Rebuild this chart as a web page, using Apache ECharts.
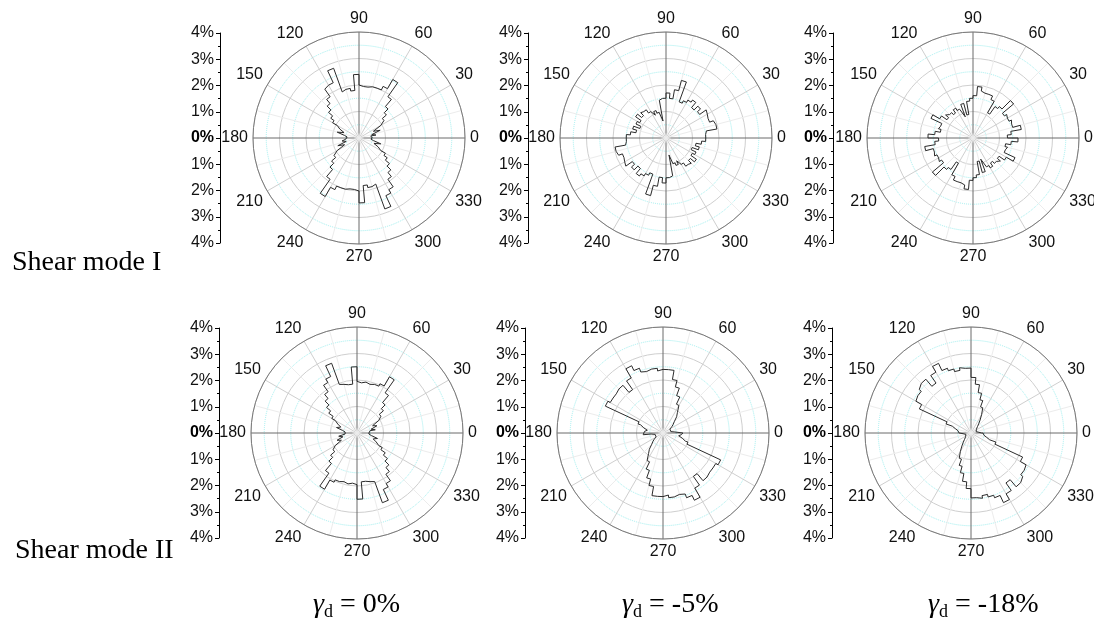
<!DOCTYPE html>
<html>
<head>
<meta charset="utf-8">
<script src="https://cdn.jsdelivr.net/npm/echarts@6/dist/echarts.min.js"></script>
<style>
  html, body { margin: 0; background: #fff; }
  #chart { width: 1094px; height: 623px; }
</style>
</head>
<body>
<div id="chart"></div>
<script>
// bin width of the rose diagrams (degrees), 72 bins from 0 to 360
const binWidth = 5;

// frequency (%) per 5 degree bin, 0..355
const shearI_0 = [
  0.5, 0.45, 0.65, 0.5, 0.85, 0.6, 0.95, 1.15, 1.35, 1.55, 1.9, 2.55,
  2.15, 2.0, 2.0, 1.95, 1.95, 2.0, 2.4, 1.8, 1.9, 1.85, 2.8, 2.3,
  2.25, 1.9, 1.7, 1.5, 1.3, 1.15, 0.95, 0.8, 0.6, 0.85, 0.55, 0.45,
  0.5, 0.45, 0.65, 0.5, 0.85, 0.6, 0.95, 1.15, 1.35, 1.55, 1.9, 2.55,
  2.15, 2.0, 2.0, 1.95, 1.95, 2.0, 2.45, 1.8, 1.9, 1.85, 2.85, 2.4,
  2.25, 1.9, 1.7, 1.5, 1.3, 1.15, 0.95, 0.8, 0.6, 0.85, 0.55, 0.45
];
const shearI_5 = [
  1.5, 1.55, 1.95, 1.9, 1.75, 1.8, 1.85, 1.55, 1.7, 1.5, 1.75, 1.65,
  1.55, 1.45, 2.25, 1.85, 1.5, 1.7, 1.5, 1.45, 0.65, 1.0, 1.1, 0.95,
  1.15, 1.3, 1.35, 1.2, 1.4, 1.15, 1.25, 1.05, 1.3, 1.15, 1.35, 1.5,
  1.5, 1.55, 1.95, 1.9, 1.75, 1.8, 1.85, 1.55, 1.7, 1.5, 1.75, 1.65,
  1.55, 1.45, 2.25, 1.85, 1.5, 1.7, 1.5, 1.45, 0.65, 1.0, 1.1, 0.95,
  1.15, 1.3, 1.35, 1.2, 1.4, 1.15, 1.25, 1.05, 1.3, 1.15, 1.35, 1.5
];
const shearI_18 = [
  1.3, 1.45, 1.85, 1.55, 1.6, 1.5, 1.55, 1.45, 2.0, 1.55, 1.45, 1.1,
  1.6, 1.75, 1.75, 1.8, 1.95, 1.6, 1.5, 1.4, 0.9, 1.35, 0.85, 1.2,
  1.3, 1.15, 1.25, 1.35, 1.2, 1.45, 1.75, 1.3, 1.35, 1.25, 1.45, 1.7,
  1.3, 1.45, 1.85, 1.55, 1.6, 1.5, 1.55, 1.45, 2.0, 1.55, 1.45, 1.1,
  1.6, 1.75, 1.75, 1.8, 1.95, 1.6, 1.5, 1.4, 0.9, 1.35, 0.85, 1.2,
  1.3, 1.15, 1.25, 1.35, 1.2, 1.45, 1.75, 1.3, 1.35, 1.25, 1.45, 1.7
];
const shearII_0 = [
  0.45, 0.5, 0.7, 0.55, 0.8, 0.65, 0.95, 1.1, 1.3, 1.5, 1.85, 2.45,
  2.05, 1.95, 1.9, 1.95, 1.9, 1.95, 2.5, 1.85, 1.9, 1.95, 2.8, 2.35,
  2.2, 1.9, 1.7, 1.5, 1.3, 1.1, 0.95, 0.8, 0.65, 0.8, 0.55, 0.45,
  0.45, 0.5, 0.7, 0.55, 0.8, 0.65, 0.95, 1.1, 1.3, 1.5, 1.85, 2.45,
  2.05, 1.95, 1.9, 1.95, 1.9, 1.95, 2.5, 1.85, 1.9, 1.95, 2.8, 2.35,
  2.2, 1.9, 1.7, 1.5, 1.3, 1.1, 0.95, 0.8, 0.65, 0.8, 0.55, 0.45
];
const shearII_5 = [
  0.75, 0.45, 0.3, 0.3, 0.3, 0.3, 0.35, 0.4, 0.5, 0.6, 0.8, 0.95,
  1.2, 1.5, 1.8, 2.05, 2.4, 2.4, 2.35, 2.45, 2.4, 2.45, 2.6, 2.8,
  2.4, 2.0, 2.35, 2.3, 2.3, 2.3, 2.4, 1.0, 0.9, 0.75, 0.6, 0.7,
  0.75, 0.45, 0.3, 0.3, 0.3, 0.3, 0.35, 0.4, 0.5, 0.6, 0.8, 0.95,
  1.2, 1.5, 1.8, 2.05, 2.4, 2.4, 2.35, 2.45, 2.4, 2.45, 2.6, 2.8,
  2.4, 2.0, 2.35, 2.3, 2.3, 2.3, 2.4, 1.0, 0.9, 0.75, 0.6, 0.7
];
const shearII_18 = [
  0.4, 0.3, 0.25, 0.2, 0.2, 0.2, 0.2, 0.25, 0.3, 0.35, 0.45, 0.6,
  0.8, 1.05, 1.3, 1.55, 1.85, 2.1, 2.45, 2.5, 2.4, 2.5, 2.6, 2.9,
  2.65, 2.3, 2.65, 2.55, 2.45, 2.4, 2.15, 1.0, 0.75, 0.6, 0.5, 0.45,
  0.4, 0.3, 0.25, 0.2, 0.2, 0.2, 0.2, 0.25, 0.3, 0.35, 0.45, 0.6,
  0.8, 1.05, 1.3, 1.55, 1.85, 2.1, 2.45, 2.5, 2.4, 2.5, 2.6, 2.9,
  2.65, 2.3, 2.65, 2.55, 2.45, 2.4, 2.15, 1.0, 0.75, 0.6, 0.5, 0.45
];

const roses = [shearI_0, shearI_5, shearI_18, shearII_0, shearII_5, shearII_18];
const rowLabels = ["Shear mode I", "Shear mode II"];
const strainLabels = ["0%", "-5%", "-18%"];

// layout of the six panels
const centers = [[359, 138], [666, 138], [973, 138], [357, 433], [663, 433], [971, 433]];
const axisX = [220, 528, 833, 219, 525, 832];
const radius = 106;

const sans = "Liberation Sans";
const serif = "Liberation Serif";

function outline(vals) {
  const pts = [];
  vals.forEach((v, i) => {
    pts.push([v, i * binWidth]);
    pts.push([v, (i + 1) * binWidth]);
  });
  pts.push(pts[0]);
  return pts;
}

const polar = [], angleAxis = [], radiusAxis = [], grid = [], xAxis = [], yAxis = [], series = [];

centers.forEach((c, i) => {
  polar.push({ center: c, radius: radius });
  angleAxis.push({
    polarIndex: i,
    type: "value",
    min: 0,
    max: 360,
    interval: 30,
    startAngle: 0,
    clockwise: false,
    axisLine: { lineStyle: { color: "#7a7a7a", width: 1 } },
    axisTick: { show: false },
    axisLabel: {
      margin: 5,
      fontSize: 16,
      fontFamily: sans,
      color: "#111",
      formatter: v => (v === 360 ? "" : String(v))
    },
    splitLine: { lineStyle: { color: ["#6a6a6a", "#cfcfcf", "#cfcfcf"], width: 1 } },
    minorTick: { show: false, splitNumber: 2 },
    minorSplitLine: { show: true, lineStyle: { color: "#ececec", width: 1 } }
  });
  radiusAxis.push({
    polarIndex: i,
    type: "value",
    min: 0,
    max: 4,
    interval: 1,
    axisLine: { show: false },
    axisTick: { show: false },
    axisLabel: { show: false },
    splitLine: { lineStyle: { color: "#cfcfcf", width: 1 } },
    minorTick: { show: false, splitNumber: 2 },
    minorSplitLine: { show: true, lineStyle: { color: "#9ff0f0", type: "dotted", width: 1 } }
  });

  // left percentage scale
  grid.push({ left: axisX[i], top: c[1] - 105, width: 10, height: 210 });
  xAxis.push({ gridIndex: i, type: "value", show: false, min: 0, max: 1 });
  yAxis.push({
    gridIndex: i,
    type: "value",
    min: -4,
    max: 4,
    interval: 1,
    position: "left",
    axisLine: { show: true, lineStyle: { color: "#000", width: 1 } },
    axisTick: { show: true, length: 4, lineStyle: { color: "#000" } },
    minorTick: { show: true, splitNumber: 2, length: 2, lineStyle: { color: "#000" } },
    splitLine: { show: false },
    axisLabel: {
      margin: 6,
      fontSize: 16,
      fontFamily: sans,
      color: "#111",
      formatter: v => (v === 0 ? "{b|0%}" : Math.abs(v) + "%"),
      rich: { b: { fontSize: 16, fontFamily: sans, fontWeight: "bold", color: "#000" } }
    }
  });

  series.push({
    type: "line",
    coordinateSystem: "polar",
    polarIndex: i,
    data: outline(roses[i]),
    symbol: "none",
    silent: true,
    lineStyle: { color: "#2b2b2b", width: 1 }
  });
});

const title = [
  { text: rowLabels[0], left: 12, top: 247 },
  { text: rowLabels[1], left: 15, top: 535 }
].map(t => ({
  ...t,
  padding: 0,
  textStyle: { fontFamily: serif, fontSize: 28, fontWeight: "normal", color: "#000", lineHeight: 32 }
}));

const strainLeft = [313, 622, 928];
strainLabels.forEach((s, j) => {
  title.push({
    text: "{g|γ}{d|d}{t| = " + s + "}",
    left: strainLeft[j],
    top: 589,
    padding: 0,
    textStyle: {
      fontWeight: "normal",
      rich: {
        g: { fontFamily: serif, fontStyle: "italic", fontWeight: "normal", fontSize: 28, lineHeight: 32, color: "#000" },
        d: { fontFamily: serif, fontWeight: "normal", fontSize: 18, lineHeight: 18, verticalAlign: "bottom", color: "#000" },
        t: { fontFamily: serif, fontWeight: "normal", fontSize: 28, lineHeight: 32, color: "#000" }
      }
    }
  });
});

const chart = echarts.init(document.getElementById("chart"));
chart.setOption({
  animation: false,
  backgroundColor: "#fff",
  title,
  polar,
  angleAxis,
  radiusAxis,
  grid,
  xAxis,
  yAxis,
  series
});
</script>
</body>
</html>
